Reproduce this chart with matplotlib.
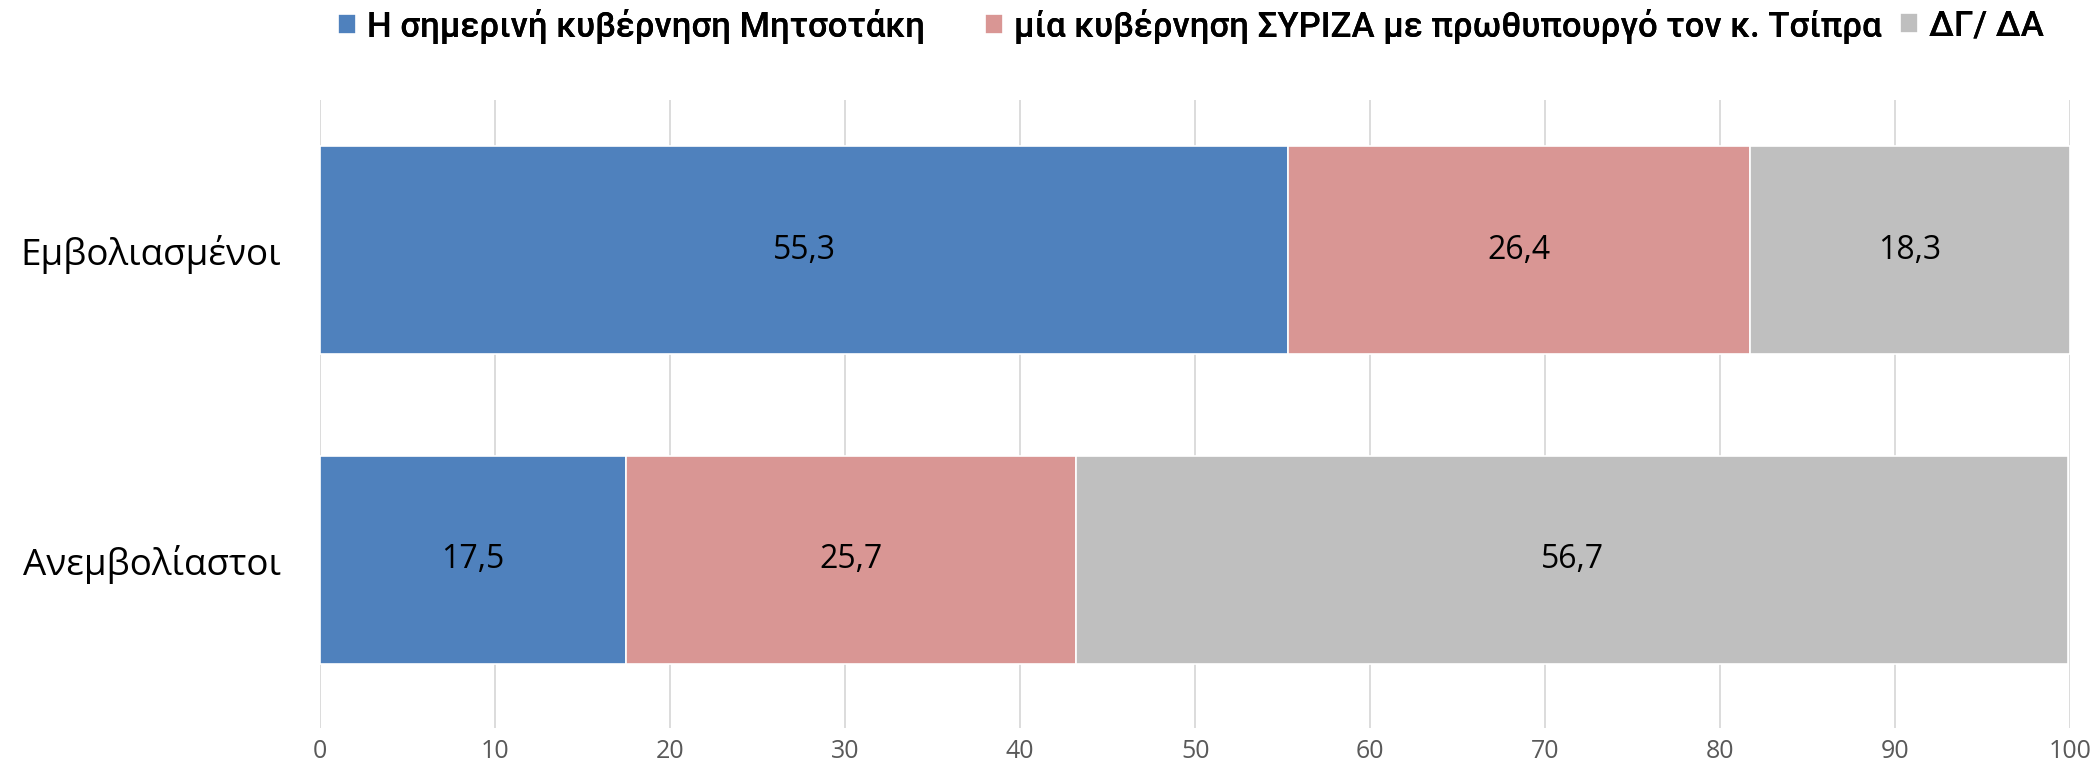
import matplotlib
matplotlib.use("Agg")
import matplotlib.pyplot as plt
import numpy as np

categories = ["Εμβολιασμένοι", "Ανεμβολίαστοι"]
series_names = [
    "Η σημερινή κυβέρνηση Μητσοτάκη",
    "μία κυβέρνηση ΣΥΡΙΖΑ με πρωθυπουργό τον κ. Τσίπρα",
    "ΔΓ/ ΔΑ",
]
mitsotakis = [55.3, 17.5]
syriza = [26.4, 25.7]
dk_na = [18.3, 56.7]
colors = ["#4F81BD", "#D99694", "#BFBFBF"]
xticks = list(range(0, 101, 10))

plt.rcParams["font.family"] = ["Open Sans", "DejaVu Sans"]

W, H = 2096, 765
fig = plt.figure(figsize=(W / 100, H / 100), dpi=100)
ax = fig.add_axes([0.1527, 0.0484, 0.835, 0.8209])

y = np.arange(len(categories))
left = np.zeros(len(categories))
handles = []
for name, vals, col in zip(series_names, [mitsotakis, syriza, dk_na], colors):
    vals = np.array(vals)
    bars = ax.barh(y, vals, left=left, height=0.668, color=col,
                   edgecolor="white", linewidth=1.2, label=name, zorder=3)
    handles.append(bars)
    for yi, l, v in zip(y, left, vals):
        ax.text(l + v / 2, yi, f"{v:.1f}".replace(".", ","), ha="center",
                va="center", fontsize=23, color="black", zorder=4)
    left = left + vals

ax.set_xlim(0, 100)
ax.set_ylim(1.542, -0.484)
ax.set_xticks(xticks)
ax.set_xticklabels([str(t) for t in xticks], fontsize=18, color="#595959")
ax.set_yticks(y)
ax.set_yticklabels(categories, fontsize=26.5, color="black")
ax.tick_params(axis="x", length=0, pad=8)
ax.tick_params(axis="y", length=0, pad=28)
ax.grid(axis="x", color="#D9D9D9", linewidth=1.3, zorder=0)
ax.set_axisbelow(True)
for s in ax.spines.values():
    s.set_visible(False)

# one legend entry per series, each placed at its own left position
legend_x = [338, 985, 1900]
for h, name, lx in zip(handles, series_names, legend_x):
    leg = fig.legend(handles=[h], labels=[name], loc="center left",
                     bbox_to_anchor=(lx / W, 1 - 26 / H), frameon=False,
                     borderpad=0, borderaxespad=0,
                     prop={"family": ["Roboto", "DejaVu Sans"], "size": 25,
                           "weight": "medium"},
                     handlelength=0.53, handleheight=0.53, handletextpad=0.3)
    fig.add_artist(leg)

fig.savefig("out.png", dpi=100, facecolor="white")
